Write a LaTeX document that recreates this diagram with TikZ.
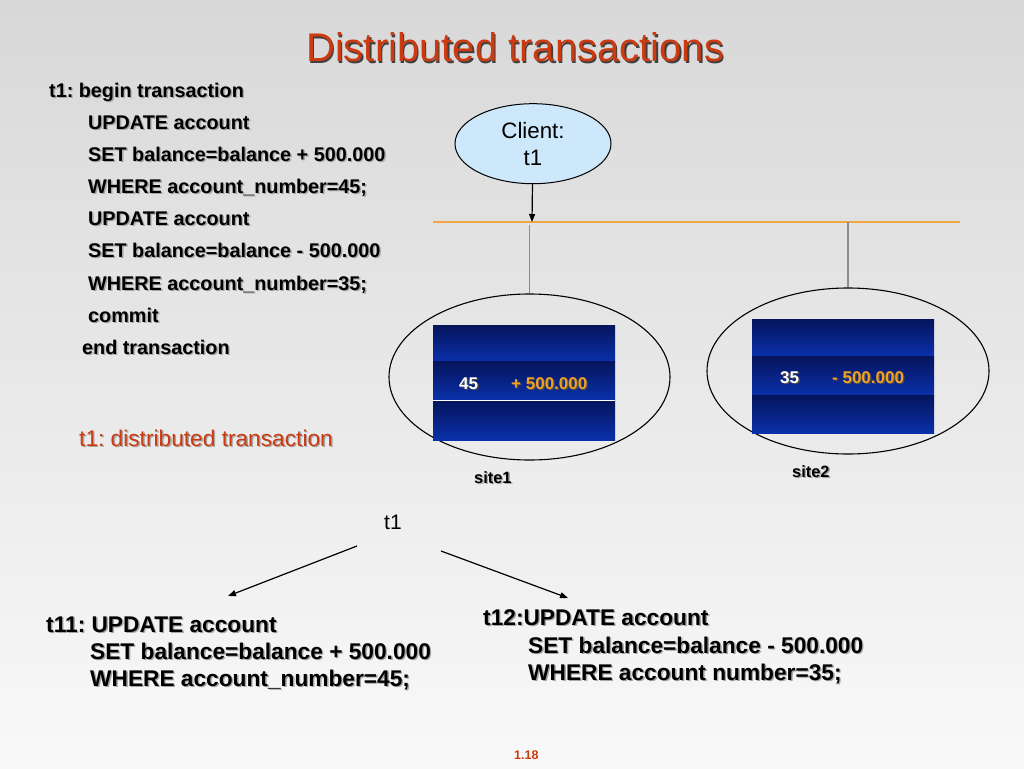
\documentclass[tikz,border=0pt]{standalone}
\usepackage{fontspec}
\setmainfont{Liberation Sans}
\usetikzlibrary{arrows.meta,shapes.geometric}
\definecolor{bgtop}{RGB}{216,216,216}
\definecolor{bgbot}{RGB}{249,249,249}
\definecolor{titlered}{RGB}{204,58,18}
\definecolor{clientblue}{RGB}{204,232,250}
\definecolor{navytop}{RGB}{5,20,92}
\definecolor{navybot}{RGB}{10,48,170}
\definecolor{amber}{RGB}{240,160,35}
\definecolor{lineorange}{RGB}{240,165,70}
\definecolor{linegray}{RGB}{140,140,140}
\definecolor{shadowc}{RGB}{165,165,165}
\newcommand{\shd}[2][shadowc]{\makebox[0pt][l]{\kern1.4pt\raisebox{-1.4pt}{\textcolor{#1}{#2}}}#2}
\newcommand{\fsz}[1]{\fontsize{#1}{#1}\selectfont}
\frenchspacing
\begin{document}
\begin{tikzpicture}[x=1pt,y=-1pt,
  txt/.style={inner sep=0pt, anchor=base west},
  code/.style={txt, font=\fsz{19.8}\bfseries},
  big/.style={txt, font=\fsz{22.7}\bfseries},
  cell/.style={txt, font=\fsz{17}\bfseries},
  arr/.style={line width=1.2pt, -{Triangle[length=8pt,width=6pt]}},
  site/.style={ellipse, draw=black, line width=1.1pt, inner sep=0pt}]
% background
\shade[top color=bgtop, bottom color=bgbot] (0,0) rectangle (1024,768);
\useasboundingbox (0,0) rectangle (1024,768);

% title
\node[txt, text=titlered, font=\fsz{40}] (title) at (306,62)
  {\shd[black!75]{Distributed transactions}};

% transaction listing
\node[code] (l1) at (49,97)  {\shd{t1: begin transaction}};
\node[code] (l2) at (88,129) {\shd{UPDATE account}};
\node[code] (l3) at (88,161) {\shd{SET balance=balance + 500.000}};
\node[code] (l4) at (88,193) {\shd{WHERE account\_number=45;}};
\node[code] (l5) at (88,225) {\shd{UPDATE account}};
\node[code] (l6) at (88,257) {\shd{SET balance=balance - 500.000}};
\node[code] (l7) at (88,290) {\shd{WHERE account\_number=35;}};
\node[code] (l8) at (88,322) {\shd{commit}};
\node[code] (l9) at (82,354) {\shd{end transaction}};

\node[txt, text=titlered, font=\fsz{22.7}] (dist) at (79,446)
  {\shd{t1: distributed transaction}};

% client and bus
\node[ellipse, draw=black, line width=1pt, fill=clientblue, inner sep=0pt,
      minimum width=156pt, minimum height=80pt, align=center,
      font=\fontsize{22.3}{26.7}\selectfont] (client) at (533,143.7) {Client:\\t1};
\coordinate (busL) at (433,222);
\coordinate (busR) at (960,222);
\coordinate (bus1) at (532,222);
\coordinate (tap1) at (529.5,225);
\coordinate (tap2) at (848,222);
\draw[lineorange, line width=1.2pt] (busL) -- (busR);
\draw[arr] (client) -- (bus1);

% sites
\node[site, minimum width=281pt, minimum height=166pt] (site1) at (529.5,377) {};
\node[site, minimum width=282pt, minimum height=166pt] (site2) at (848,371) {};
\draw[linegray, line width=1.2pt] (tap1) -- (site1.north);
\draw[linegray, line width=1.2pt] (tap2) -- (site2.north);

% site1 table
\shade[top color=navytop, bottom color=navybot] (433,325) rectangle (615,361);
\shade[top color=navytop, bottom color=navybot] (433,361) rectangle (615,400);
\shade[top color=navytop, bottom color=navybot] (433,400) rectangle (615,440);
\draw[white, line width=1pt] (433,400) -- (615,400);
\node[cell, text=white] (v45) at (459,389) {\shd[black!70]{45}};
\node[cell, text=amber] (p500) at (511,389) {\shd[black!70]{+ 500.000}};

% site2 table
\shade[top color=navytop, bottom color=navybot] (752,319) rectangle (934,356);
\shade[top color=navytop, bottom color=navybot] (752,356) rectangle (934,395);
\shade[top color=navytop, bottom color=navybot] (752,395) rectangle (934,433);
\node[cell, text=white] (v35) at (780,383) {\shd[black!70]{35}};
\node[cell, text=amber] (m500) at (832,383) {\shd[black!70]{- 500.000}};

\node[txt, font=\fsz{16.4}\bfseries] (s1lab) at (474,483) {\shd{site1}};
\node[txt, font=\fsz{16.4}\bfseries] (s2lab) at (792,477) {\shd{site2}};

% decomposition
\node[txt, font=\fsz{21}] (t1) at (384,529) {t1};
\coordinate (a1s) at (357,546);
\coordinate (a1e) at (228,596);
\coordinate (a2s) at (441,551);
\coordinate (a2e) at (568,598);
\draw[arr] (a1s) -- (a1e);
\draw[arr] (a2s) -- (a2e);

\node[big] (t11a) at (46,632) {\shd{t11: UPDATE account}};
\node[big] (t11b) at (90,659) {\shd{SET balance=balance + 500.000}};
\node[big] (t11c) at (90,686) {\shd{WHERE account\_number=45;}};

\node[big] (t12a) at (483,625) {\shd{t12:UPDATE account}};
\node[big] (t12b) at (528,653) {\shd{SET balance=balance - 500.000}};
\node[big] (t12c) at (528,680) {\shd{WHERE account number=35;}};

\node[txt, text=titlered, font=\fsz{12.5}\bfseries] (page) at (514,759) {1.18};
\end{tikzpicture}
\end{document}
